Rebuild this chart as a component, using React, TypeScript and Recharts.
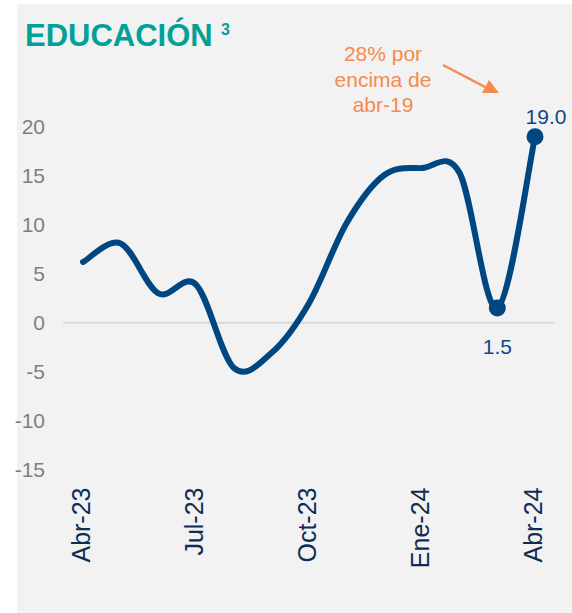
import { LineChart, Line, XAxis, YAxis, ReferenceLine, LabelList } from "recharts";

const months = [
  "Abr-23", "May-23", "Jun-23", "Jul-23", "Ago-23", "Sep-23", "Oct-23",
  "Nov-23", "Dic-23", "Ene-24", "Feb-24", "Mar-24", "Abr-24",
];
const values = [6.2, 8.1, 3.0, 3.9, -4.6, -3.1, 2.0, 10.2, 15.1, 15.8, 15.3, 1.5, 19.0];
const yTicks = [-15, -10, -5, 0, 5, 10, 15, 20];
const labelled = [11, 12];

const data = months.map((m, i) => ({ month: m, value: values[i] }));

const FONT = "'Liberation Sans', Arial, sans-serif";
const NAVY = "#004680";
const ORANGE = "#f58b4c";

// Excel-style smoothing (Catmull-Rom through the points)
const smoothCurve = (context: any) => {
  let xs: number[] = [];
  let ys: number[] = [];
  return {
    areaStart() {},
    areaEnd() {},
    lineStart() {
      xs = [];
      ys = [];
    },
    point(x: number, y: number) {
      xs.push(+x);
      ys.push(+y);
    },
    lineEnd() {
      const n = xs.length;
      if (!n) return;
      context.moveTo(xs[0], ys[0]);
      for (let i = 0; i < n - 1; i++) {
        const a = Math.max(i - 1, 0);
        const d = Math.min(i + 2, n - 1);
        const c1x = xs[i] + (xs[i + 1] - xs[a]) / 6;
        const c1y = ys[i] + (ys[i + 1] - ys[a]) / 6;
        const c2x = xs[i + 1] - (xs[d] - xs[i]) / 6;
        const c2y = ys[i + 1] - (ys[d] - ys[i]) / 6;
        context.bezierCurveTo(c1x, c1y, c2x, c2y, xs[i + 1], ys[i + 1]);
      }
    },
  };
};

const MonthTick = (props: any) => {
  const { x, y, payload } = props;
  const tx = x - 2;
  const ty = y + 10;
  return (
    <text
      x={tx}
      y={ty}
      transform={`rotate(-90, ${tx}, ${ty})`}
      textAnchor="end"
      dy="0.36em"
      fill="#0f2d52"
      fontSize={25}
      fontFamily={FONT}
    >
      {payload.value}
    </text>
  );
};

const renderDot = (props: any) => {
  const { cx, cy, index } = props;
  if (!labelled.includes(index)) return <g key={`d-${index}`} />;
  return <circle key={`d-${index}`} cx={cx} cy={cy} r={8.5} fill={NAVY} />;
};

const renderValue = (props: any) => {
  const { x, y, index, value } = props;
  if (!labelled.includes(index)) return null;
  const last = index === values.length - 1;
  return (
    <text
      x={last ? x + 11 : x}
      y={last ? y - 13 : y + 46}
      textAnchor="middle"
      fill="#0b4a86"
      fontSize={21}
      fontFamily={FONT}
    >
      {Number(value).toFixed(1)}
    </text>
  );
};

export default function App() {
  return (
    <div style={{ position: "absolute", left: 0, top: 0, width: 572, height: 613, background: "#fff" }}>
      <div
        style={{ position: "absolute", left: 17, top: 4, width: 555, height: 609, background: "#f2f2f2" }}
      />
      <div style={{ position: "absolute", left: 0, top: 0 }}>
        <LineChart
          width={572}
          height={613}
          data={data}
          margin={{ top: 127, right: 18, bottom: 0, left: 0 }}
        >
          <XAxis
            dataKey="month"
            interval={2}
            axisLine={false}
            tickLine={false}
            height={143.5}
            padding={{ left: 20, right: 19 }}
            tick={<MonthTick />}
          />
          <YAxis
            domain={[-15, 20]}
            ticks={yTicks}
            width={63}
            axisLine={false}
            tickLine={false}
            tickMargin={12}
            tick={{ fill: "#7f7f7f", fontSize: 21, fontFamily: FONT }}
          />
          <ReferenceLine y={0} stroke="#d9d9d9" strokeWidth={2} />
          <Line
            type={smoothCurve as any}
            dataKey="value"
            stroke={NAVY}
            strokeWidth={6}
            strokeLinecap="round"
            dot={renderDot}
            activeDot={false}
            isAnimationActive={false}
          >
            <LabelList dataKey="value" content={renderValue} />
          </Line>
        </LineChart>
      </div>
      <svg
        width={572}
        height={613}
        style={{ position: "absolute", left: 0, top: 0, pointerEvents: "none" }}
      >
        <text x={25} y={46} fill="#00a196" fontSize={31} fontWeight="bold" fontFamily={FONT}>
          EDUCACIÓN
        </text>
        <text x={221} y={35} fill="#00a196" fontSize={16} fontWeight="bold" fontFamily={FONT}>
          3
        </text>
        <text fill={ORANGE} fontSize={21} fontFamily={FONT} textAnchor="middle">
          <tspan x={383} y={61}>28% por</tspan>
          <tspan x={383} y={87}>encima de</tspan>
          <tspan x={383} y={112}>abr-19</tspan>
        </text>
        <line x1={443} y1={65} x2={487} y2={88} stroke={ORANGE} strokeWidth={2.5} />
        <polygon points="499,93 482,93 489,80" fill={ORANGE} />
      </svg>
    </div>
  );
}
